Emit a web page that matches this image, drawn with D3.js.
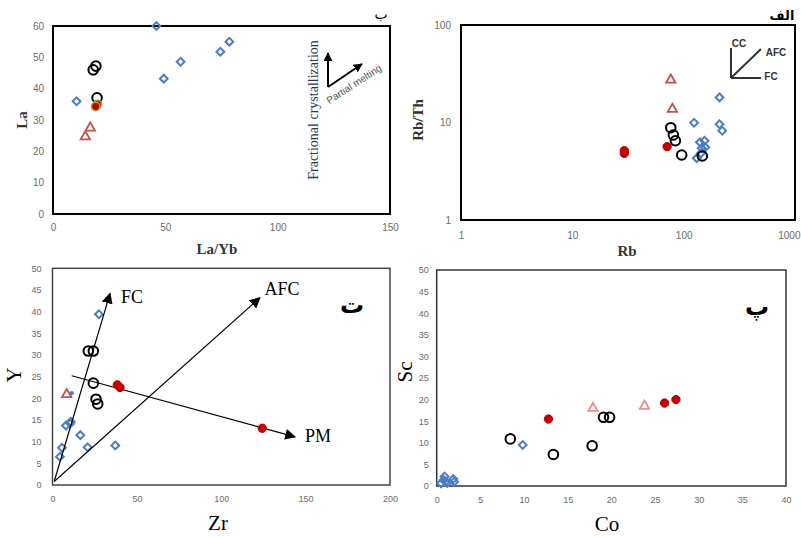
<!DOCTYPE html>
<html><head><meta charset="utf-8">
<script src="https://cdn.jsdelivr.net/npm/d3@7"></script>
<style>body{margin:0;background:#fff}svg{display:block}</style>
</head><body>
<script>
// ---------- DATA ----------
// Panel ب : La/Yb vs La
const p1BlueX = [10.5, 46, 49.3, 56.8, 74.5, 78.5];
const p1BlueY = [36, 60, 43.2, 48.6, 51.8, 55];
const p1BlackX = [17.9, 19.1, 19.6];
const p1BlackY = [46, 47.2, 37.1];
const p1TriX = [14.4, 16.6];
const p1TriY = [24.7, 27.5];
const p1RedX = [19.8, 19.0];
const p1RedY = [35, 34.3];
const p1XTicks = [0, 50, 100, 150];
const p1YTicks = [0, 10, 20, 30, 40, 50, 60];

// Panel الف : Rb vs Rb/Th (log-log)
const p2BlueX = [124, 210, 210, 222, 140, 154, 145, 156, 131, 143];
const p2BlueY = [9.95, 18.1, 9.6, 8.24, 6.27, 6.5, 5.43, 5.56, 4.29, 4.83];
const p2BlackX = [76.6, 80.8, 84.3, 96, 147];
const p2BlackY = [8.85, 7.44, 6.5, 4.64, 4.53];
const p2TriX = [76.6, 79.2];
const p2TriY = [27.3, 13.7];
const p2RedX = [29.3, 29.3, 71];
const p2RedY = [5.14, 4.83, 5.65];
const p2XTicks = [1, 10, 100, 1000];
const p2YTicks = [1, 10, 100];

// Panel ت : Zr vs Y
const p3BlueX = [27.5, 5.6, 4.4, 8, 10.5, 10.8, 16.5, 20.8, 37.2];
const p3BlueY = [39.4, 8.6, 6.5, 13.7, 14.2, 14.6, 11.5, 8.7, 9.1];
const p3BlackX = [21.2, 24.2, 24.2, 25.8, 26.8];
const p3BlackY = [30.9, 30.9, 23.5, 19.8, 18.7];
const p3TriX = [8.4];
const p3TriY = [20.9];
const p3RedX = [38.4, 40, 124.3];
const p3RedY = [23.1, 22.5, 13.1];
const p3DotX = [11.4];
const p3DotY = [21.2];
const p3Vectors = [
  {name: "FC",  x1: 1, y1: 0.8, x2: 34.1, y2: 44.2},
  {name: "AFC", x1: 1, y1: 0.8, x2: 122.9, y2: 43.2},
  {name: "PM",  x1: 11.4, y1: 25.2, x2: 143.7, y2: 11.1}
];
const p3XTicks = [0, 50, 100, 150, 200];
const p3YTicks = [0, 5, 10, 15, 20, 25, 30, 35, 40, 45, 50];

// Panel پ : Co vs Sc
const p4BlueX = [0.5, 0.8, 0.9, 1.0, 1.2, 1.9, 2.0, 9.85];
const p4BlueY = [0.6, 1.4, 2.2, 1.0, 0.7, 1.6, 1.0, 9.5];
const p4BlackX = [8.43, 13.36, 17.8, 19.1, 19.8];
const p4BlackY = [10.9, 7.3, 9.3, 15.9, 15.9];
const p4RedX = [12.8, 26.1, 27.4];
const p4RedY = [15.5, 19.2, 20];
const p4TriX = [17.9, 23.8];
const p4TriY = [18, 18.5];
const p4XTicks = [0, 5, 10, 15, 20, 25, 30, 35, 40];
const p4YTicks = [0, 5, 10, 15, 20, 25, 30, 35, 40, 45, 50];

// ---------- DRAW ----------
const W = 801, H = 538;
const svg = d3.select("body").append("svg").attr("width", W).attr("height", H);
const defs = svg.append("defs");
function mk(id, size){
  defs.append("marker").attr("id", id).attr("viewBox", "0 0 10 10")
    .attr("refX", 9).attr("refY", 5).attr("markerWidth", size).attr("markerHeight", size)
    .attr("markerUnits", "userSpaceOnUse").attr("orient", "auto")
    .append("path").attr("d", "M0,0 L10,5 L0,10 z").attr("fill", "#000");
}
mk("ah", 11); mk("ah2", 9);

const BLUE = "#4a7ebf", TRI = "#c0504d", RED = "#c00000";
const tickFont = "Liberation Sans, Arial, sans-serif";
const serif = "Liberation Serif, Times New Roman, serif";

function zip(xs, ys){ return xs.map((x, i) => [x, ys[i]]); }

function panel(o){
  const g = svg.append("g");
  const x = o.xScale, y = o.yScale;
  const xa = d3.axisBottom(x).tickValues(o.xTicks).tickSize(0).tickPadding(o.xPad || 8).tickFormat(d3.format("d"));
  const ya = d3.axisLeft(y).tickValues(o.yTicks).tickSize(0).tickPadding(o.yPad || 8).tickFormat(d3.format("d"));
  const gx = g.append("g").attr("transform", `translate(0,${y.range()[0]})`).call(xa);
  const gy = g.append("g").attr("transform", `translate(${x.range()[0]},0)`).call(ya);
  [gx, gy].forEach(a => {
    a.select(".domain").remove();
    a.selectAll("text").attr("fill", "#6b6b6b").style("font-family", tickFont).style("font-size", (o.tickSize || 10) + "px");
  });
  const [x0, x1] = x.range(), [y0, y1] = y.range();
  g.append("rect").attr("x", x0).attr("y", y1).attr("width", x1 - x0).attr("height", y0 - y1)
    .attr("fill", "none").attr("stroke", o.border || "#000").attr("stroke-width", o.bw || 2);
  return {g, x, y, gx, gy};
}

function pts(p, data, kind, opts = {}){
  const {g, x, y} = p;
  const sel = g.append("g").selectAll("path").data(data).join("path")
    .attr("transform", d => `translate(${x(d[0])},${y(d[1])})` + (kind === "diamond" ? " rotate(45)" : ""));
  if (kind === "diamond") {
    sel.attr("d", d3.symbol(d3.symbolSquare, opts.size || 30)()).attr("fill", "none").attr("stroke", BLUE).attr("stroke-width", 2);
  } else if (kind === "circle") {
    sel.attr("d", d3.symbol(d3.symbolCircle, opts.size || 72)()).attr("fill", "none").attr("stroke", "#000").attr("stroke-width", 2);
  } else if (kind === "tri") {
    sel.attr("d", d3.symbol(d3.symbolTriangle, opts.size || 38)()).attr("fill", "none").attr("stroke", opts.color || TRI).attr("stroke-width", 1.8);
  } else if (kind === "red") {
    sel.attr("d", d3.symbol(d3.symbolCircle, opts.size || 55)()).attr("fill", RED).attr("stroke", opts.stroke || RED).attr("stroke-width", opts.sw || 1);
  } else if (kind === "dot") {
    sel.attr("d", d3.symbol(d3.symbolCircle, opts.size || 14)()).attr("fill", BLUE);
  }
}

function label(txt, x, y, size, opts = {}){
  const t = svg.append("text").attr("x", x).attr("y", y).text(txt)
    .attr("text-anchor", opts.anchor || "middle").attr("dominant-baseline", "central")
    .style("font-family", opts.font || serif).style("font-size", size + "px")
    .style("font-weight", opts.bold ? "bold" : "normal").attr("fill", opts.fill || "#000");
  if (opts.rotate) t.attr("transform", `rotate(${opts.rotate},${x},${y})`);
  return t;
}

// ---- Panel 1 (ب)
const P1 = panel({
  xScale: d3.scaleLinear().domain([0, 150]).range([53, 390]),
  yScale: d3.scaleLinear().domain([0, 60]).range([214, 26]),
  xTicks: p1XTicks, yTicks: p1YTicks, xPad: 10, yPad: 9
});
pts(P1, zip(p1BlueX, p1BlueY), "diamond");
pts(P1, zip(p1BlackX, p1BlackY), "circle");
pts(P1, zip(p1TriX, p1TriY), "tri");
pts(P1, zip(p1RedX, p1RedY), "red", {stroke: "#a3a23c", sw: 1.5});
label("La", 22, 120, 15, {bold: true, rotate: -90, fill: "#333"});
label("La/Yb", 217, 249, 15, {bold: true, fill: "#333"});
label("ب", 381, 13, 14, {font: "Noto Sans, DejaVu Sans, sans-serif"});
// process sketch
label("Fractional crystallization", 313, 110, 14, {rotate: -90, fill: "#2f3550"});
svg.append("line").attr("x1", 328).attr("y1", 87).attr("x2", 328).attr("y2", 53)
  .attr("stroke", "#000").attr("stroke-width", 2).attr("marker-end", "url(#ah2)");
svg.append("line").attr("x1", 328).attr("y1", 87).attr("x2", 362).attr("y2", 64)
  .attr("stroke", "#000").attr("stroke-width", 2).attr("marker-end", "url(#ah2)");
label("Partial melting", 354, 84, 10, {rotate: -33, font: tickFont, fill: "#555"});

// ---- Panel 2 (الف)
const P2 = panel({
  xScale: d3.scaleLog().domain([1, 1000]).range([461, 795]),
  yScale: d3.scaleLog().domain([1, 100]).range([220, 25]),
  xTicks: p2XTicks, yTicks: p2YTicks, xPad: 12, yPad: 10
});
// keep the last x tick label inside the window
P2.gx.selectAll(".tick").filter(d => d === 1000).select("text").attr("text-anchor", "end").attr("dx", 5);
pts(P2, zip(p2BlueX, p2BlueY), "diamond");
pts(P2, zip(p2BlackX, p2BlackY), "circle");
pts(P2, zip(p2TriX, p2TriY), "tri");
pts(P2, zip(p2RedX, p2RedY), "red");
label("Rb/Th", 418, 120, 15, {bold: true, rotate: -90, fill: "#333"});
label("Rb", 627, 251, 15, {bold: true, fill: "#333"});
label("الف", 782, 15, 13, {font: "Noto Sans, DejaVu Sans, sans-serif", bold: true});
// inset sketch
const ins = svg.append("g").attr("stroke", "#333").attr("stroke-width", 2);
ins.append("line").attr("x1", 731).attr("y1", 78).attr("x2", 731).attr("y2", 48);
ins.append("line").attr("x1", 731).attr("y1", 78).attr("x2", 761).attr("y2", 78);
ins.append("line").attr("x1", 731).attr("y1", 78).attr("x2", 761).attr("y2", 49);
label("CC", 739, 43, 10, {font: tickFont, bold: true, fill: "#333"});
label("AFC", 776, 52, 10, {font: tickFont, bold: true, fill: "#333"});
label("FC", 771, 76, 10, {font: tickFont, bold: true, fill: "#333"});

// ---- Panel 3 (ت)
const P3 = panel({
  xScale: d3.scaleLinear().domain([0, 200]).range([52.5, 390]),
  yScale: d3.scaleLinear().domain([0, 50]).range([485, 268.3]),
  xTicks: p3XTicks, yTicks: p3YTicks, xPad: 11, yPad: 11, tickSize: 9, border: "#444", bw: 1.5
});
pts(P3, zip(p3BlueX, p3BlueY), "diamond");
pts(P3, zip(p3BlackX, p3BlackY), "circle");
pts(P3, zip(p3TriX, p3TriY), "tri");
pts(P3, zip(p3DotX, p3DotY), "dot");
P3.g.append("g").selectAll("line").data(p3Vectors).join("line")
  .attr("x1", d => P3.x(d.x1)).attr("y1", d => P3.y(d.y1))
  .attr("x2", d => P3.x(d.x2)).attr("y2", d => P3.y(d.y2))
  .attr("stroke", "#000").attr("stroke-width", 1.2).attr("marker-end", "url(#ah)");
pts(P3, zip(p3RedX, p3RedY), "red");
label("FC", 132, 297, 18);
label("AFC", 282, 289, 18);
label("PM", 318, 436, 18);
label("Y", 14, 375, 21, {rotate: -90});
label("Zr", 218, 523, 21);
label("ت", 352, 303, 24, {font: "Noto Sans, DejaVu Sans, sans-serif", bold: true});

// ---- Panel 4 (پ)
const P4 = panel({
  xScale: d3.scaleLinear().domain([0, 40]).range([436.7, 786]),
  yScale: d3.scaleLinear().domain([0, 50]).range([486, 270]),
  xTicks: p4XTicks, yTicks: p4YTicks, xPad: 11, yPad: 8, tickSize: 9, border: "#333", bw: 1.5
});
pts(P4, zip(p4BlueX, p4BlueY), "diamond");
pts(P4, zip(p4BlackX, p4BlackY), "circle");
pts(P4, zip(p4TriX, p4TriY), "tri", {color: "#e0908e"});
pts(P4, zip(p4RedX, p4RedY), "red");
label("Sc", 405, 372, 21, {rotate: -90});
label("Co", 607, 524, 21);
label("پ", 757, 305, 24, {font: "Noto Sans, DejaVu Sans, sans-serif", bold: true});
</script>
</body></html>
